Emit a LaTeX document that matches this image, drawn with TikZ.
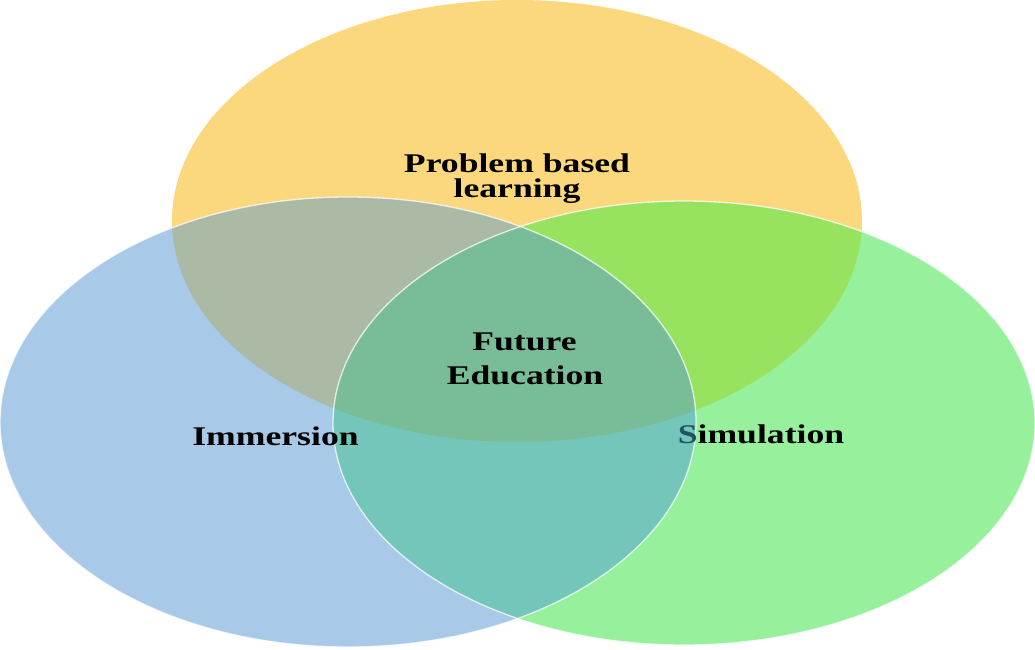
\documentclass[tikz,border=0pt]{standalone}
\usepackage{fontspec}
\usepackage{graphicx}
\setmainfont{Liberation Serif}
\definecolor{cTop}{HTML}{FBD87E}
\definecolor{cLeft}{HTML}{A9C9E8}
\definecolor{cRight}{HTML}{96F09C}
\definecolor{cTL}{HTML}{AABAA4}
\definecolor{cTR}{HTML}{97E25E}
\definecolor{cLR}{HTML}{75C6BA}
\definecolor{cTLR}{HTML}{78BD98}
\definecolor{cS}{HTML}{1F5560}
\newcommand{\widetxt}[1]{\scalebox{1.32}[1]{#1}}
\begin{document}
\begin{tikzpicture}[x=1pt,y=-1pt,
  topE/.style={insert path={(T) ellipse [x radius=345pt, y radius=221pt]}},
  leftE/.style={insert path={(L) ellipse [x radius=348pt, y radius=225pt]}},
  rightE/.style={insert path={(R) ellipse [x radius=351pt, y radius=222pt]}},
  rim/.style={draw=white, draw opacity=0.75, line width=1.3pt},
  lbl/.style={font=\bfseries\fontsize{27}{30}\selectfont, inner sep=0pt, anchor=base, text=black}]
\useasboundingbox (0,0) rectangle (1035,649);
\fill[white] (0,0) rectangle (1035,649);
\coordinate (T) at (517,221);
\coordinate (L) at (348,422);
\coordinate (R) at (684,423);
% base discs
\fill[cTop] [topE];
\fill[cLeft] [leftE];
\fill[cRight] [rightE];
% pairwise overlaps
\begin{scope}
  \clip[topE];
  \fill[cTL] [leftE];
\end{scope}
\begin{scope}
  \clip[topE];
  \fill[cTR] [rightE];
\end{scope}
\begin{scope}
  \clip[leftE];
  \fill[cLR] [rightE];
\end{scope}
% triple overlap
\begin{scope}
  \clip[topE];
  \clip[leftE];
  \fill[cTLR] [rightE];
\end{scope}
% white rims
\path[rim] [leftE];
\path[rim] [rightE];
% labels
\node[lbl] (pbl1) at (517,172) {\widetxt{Problem based}};
\node[lbl] (pbl2) at (517,197) {\widetxt{learning}};
\node[lbl] (fut1) at (524.5,350) {\widetxt{Future}};
\node[lbl] (fut2) at (525,384) {\widetxt{Education}};
\node[lbl] (imm) at (275.5,445) {\widetxt{Immersion}};
\node[lbl] (sim) at (761,443) {\widetxt{{\color{cS}S}imulation}};
\end{tikzpicture}
\end{document}
